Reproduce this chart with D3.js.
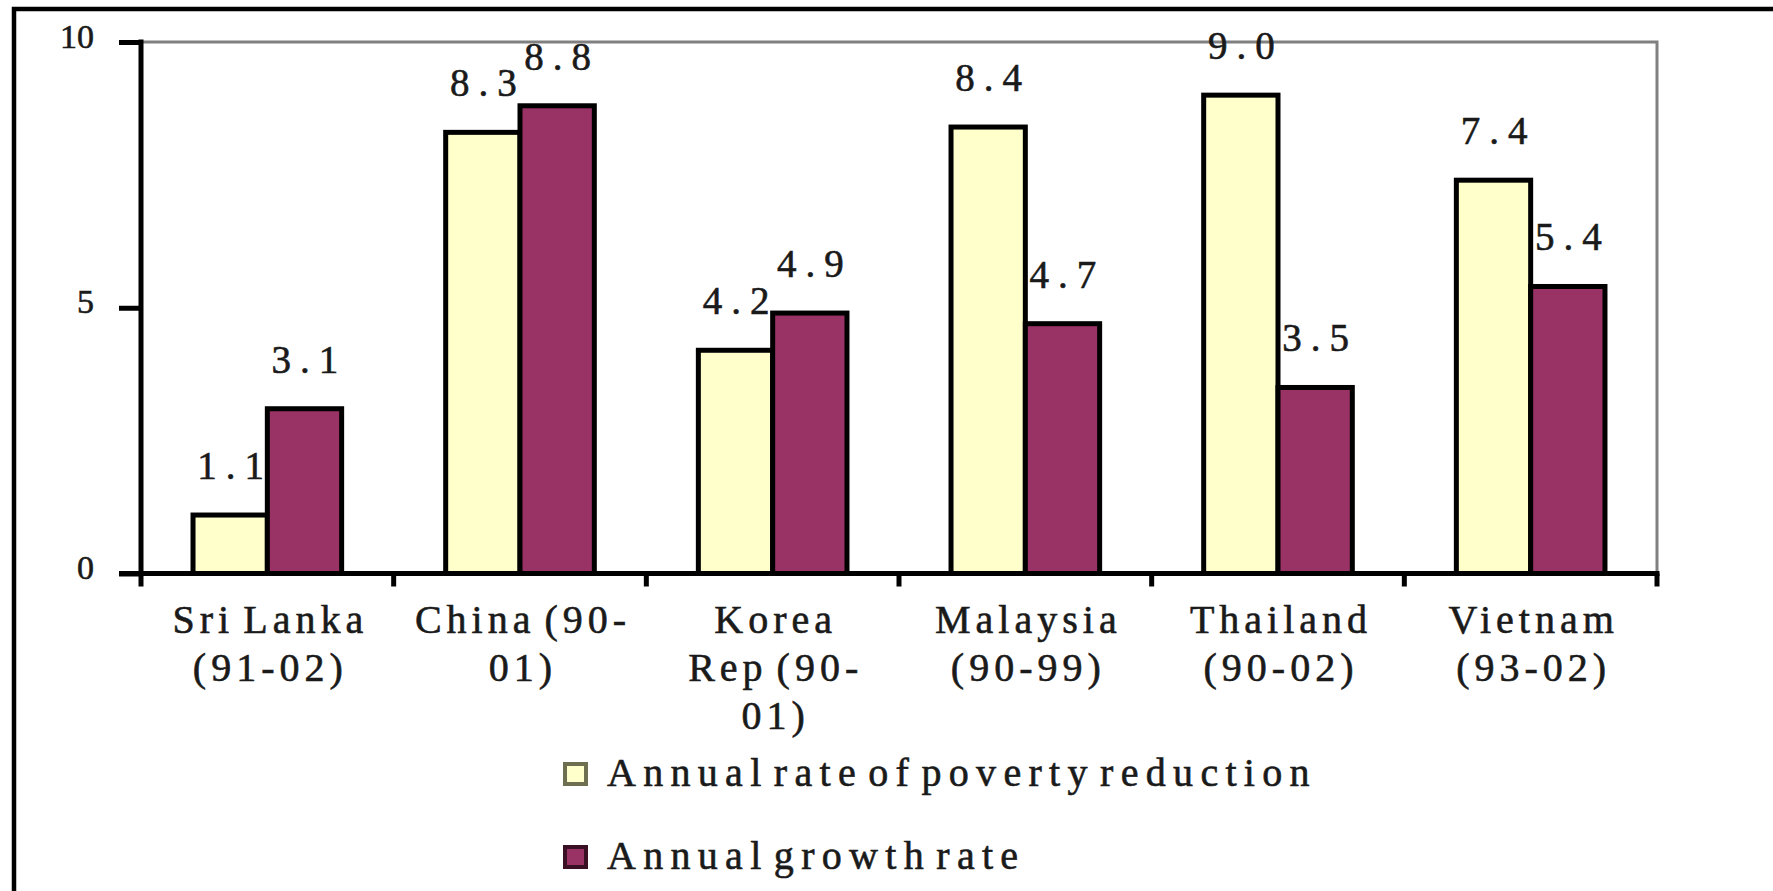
<!DOCTYPE html>
<html>
<head>
<meta charset="utf-8">
<script src="https://cdn.jsdelivr.net/npm/d3@7.9.0/dist/d3.min.js"></script>
<style>
  body { margin: 0; background: #fff; }
  svg text { font-family: "Liberation Serif", "DejaVu Serif", serif; fill: #1a1a1a; stroke: #1a1a1a; stroke-width: 0.6; }
</style>
</head>
<body>
<svg id="chart" width="1773" height="891"></svg>
<script>
// data
const categories = ['Sri Lanka', 'China', 'Korea', 'Malaysia', 'Thailand', 'Vietnam'];
const categoryLines = [
  ['Sri Lanka', '(91-02)'],
  ['China (90-', '01)'],
  ['Korea', 'Rep (90-', '01)'],
  ['Malaysia', '(90-99)'],
  ['Thailand', '(90-02)'],
  ['Vietnam', '(93-02)'],
];
const seriesNames = ['Annual rate of poverty reduction', 'Annual growth rate'];
const povertyReduction = [1.1, 8.3, 4.2, 8.4, 9.0, 7.4];
const growthRate = [3.1, 8.8, 4.9, 4.7, 3.5, 5.4];
const yTicks = [0, 5, 10];

const colors = ['#FFFFCC', '#993366'];
const seriesValues = [povertyReduction, growthRate];

const svg = d3.select('#chart');

// outer frame (runs off the right and bottom edge)
svg.append('rect')
  .attr('x', 14).attr('y', 9)
  .attr('width', 1800).attr('height', 900)
  .attr('fill', 'none').attr('stroke', '#000').attr('stroke-width', 4.5);

const plotLeft = 141, plotRight = 1657, plotTop = 42, plotBottom = 573.5;

const x = d3.scaleBand().domain(categories).range([plotLeft, plotRight]).padding(0);
const x1 = d3.scaleBand().domain([0, 1]).range([0, x.bandwidth()])
  .paddingInner(0).paddingOuter(0.7);
const y = d3.scaleLinear().domain([0, 10]).range([plotBottom, plotTop]);

// plot area border: gray top and right
svg.append('path')
  .attr('d', `M${plotLeft},${y(10)}H${plotRight}V${plotBottom}`)
  .attr('fill', 'none').attr('stroke', '#808080').attr('stroke-width', 3);

// bars
const groups = svg.append('g').selectAll('g')
  .data(categories)
  .join('g')
  .attr('transform', (d) => `translate(${x(d)},0)`);

groups.each(function (cat, i) {
  const g = d3.select(this);
  seriesValues.forEach((vals, s) => {
    g.append('rect')
      .attr('x', x1(s))
      .attr('y', y(vals[i]))
      .attr('width', x1.bandwidth())
      .attr('height', y(0) - y(vals[i]))
      .attr('fill', colors[s])
      .attr('stroke', '#000')
      .attr('stroke-width', 5);
    g.append('text')
      .attr('x', x1(s) + x1.bandwidth() / 2 + 5)
      .attr('y', y(vals[i]) - 36)
      .attr('text-anchor', 'middle')
      .attr('font-size', 39)
      .attr('letter-spacing', 9)
      .text(vals[i].toFixed(1));
  });
});

// y axis
const yAxis = svg.append('g')
  .attr('transform', `translate(${plotLeft},0)`)
  .call(d3.axisLeft(y).tickValues(yTicks).tickSize(22).tickPadding(25).tickFormat(d3.format('d')));
yAxis.select('.domain').remove();
yAxis.selectAll('.tick line').attr('stroke', '#000').attr('stroke-width', 5);
yAxis.selectAll('.tick text')
  .attr('font-size', 34)
  .attr('font-family', '"Liberation Serif", serif')
  .attr('dy', '0.15em');

svg.append('line')
  .attr('x1', plotLeft).attr('x2', plotLeft)
  .attr('y1', plotTop - 2.5).attr('y2', plotBottom + 2.5)
  .attr('stroke', '#000').attr('stroke-width', 5);

// x axis line and ticks at category boundaries
svg.append('line')
  .attr('x1', plotLeft - 22).attr('x2', plotRight + 2.5)
  .attr('y1', plotBottom).attr('y2', plotBottom)
  .attr('stroke', '#000').attr('stroke-width', 5);

const boundaries = categories.map((c) => x(c)).concat([plotRight]);
svg.append('g').selectAll('line')
  .data(boundaries)
  .join('line')
  .attr('x1', (d) => d).attr('x2', (d) => d)
  .attr('y1', plotBottom).attr('y2', plotBottom + 13)
  .attr('stroke', '#000').attr('stroke-width', 5);

// category labels
const labels = svg.append('g').selectAll('text')
  .data(categories)
  .join('text')
  .attr('text-anchor', 'middle')
  .attr('font-size', 40)
  .attr('letter-spacing', 5)
  .attr('word-spacing', -6)
  .attr('y', 633);

labels.each(function (cat, i) {
  d3.select(this).selectAll('tspan')
    .data(categoryLines[i])
    .join('tspan')
    .attr('x', x(cat) + x.bandwidth() / 2 + 3)
    .attr('dy', (d, j) => (j === 0 ? 0 : 48))
    .text((d) => d);
});

// legend
const legend = svg.append('g').selectAll('g')
  .data(seriesNames)
  .join('g')
  .attr('transform', (d, i) => `translate(565,${774 + i * 83})`);

legend.append('rect')
  .attr('x', 0).attr('y', -10)
  .attr('width', 21).attr('height', 20)
  .attr('fill', (d, i) => colors[i])
  .attr('stroke', (d, i) => (i === 0 ? '#6e6e50' : '#3a1024'))
  .attr('stroke-width', 4);

legend.append('text')
  .attr('x', 42).attr('y', 12)
  .attr('font-size', 40)
  .attr('letter-spacing', 7.3)
  .attr('word-spacing', -12)
  .text((d) => d);
</script>
</body>
</html>
